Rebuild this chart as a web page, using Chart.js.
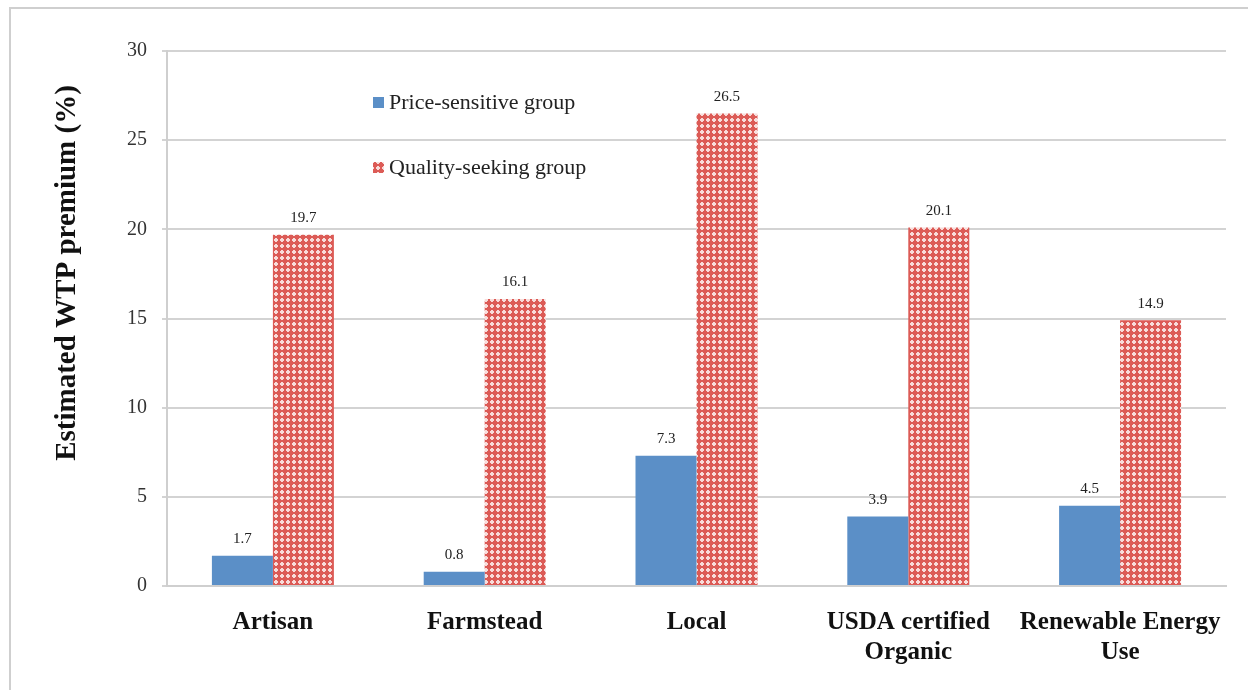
<!DOCTYPE html>
<html>
<head>
<meta charset="utf-8">
<script src="https://cdn.jsdelivr.net/npm/chart.js@4"></script>
<style>
  html, body { margin: 0; padding: 0; background: #fff; }
  #wrap { width: 1248px; height: 690px; position: relative; }
</style>
</head>
<body>
<div id="wrap"><canvas id="myChart"></canvas></div>
<script>
const categories = ['Artisan', 'Farmstead', 'Local', ['USDA certified', 'Organic'], ['Renewable Energy', 'Use']];
const priceSensitive = [1.7, 0.8, 7.3, 3.9, 4.5];
const qualitySeeking = [19.7, 16.1, 26.5, 20.1, 14.9];
const yTicks = [0, 5, 10, 15, 20, 25, 30];
const seriesNames = ['Price-sensitive group', 'Quality-seeking group'];

const serif = "'Liberation Serif', 'Times New Roman', serif";

// red diamond-check tile for the second series
function makeHatch() {
  const rows = ['..XX..', '.XXXX.', 'XXXXXX', 'XXXXXX', '.XXXX.', '..XX..'];
  const c = document.createElement('canvas');
  c.width = 6; c.height = 6;
  const g = c.getContext('2d');
  g.fillStyle = '#f8dcda';
  g.fillRect(0, 0, 6, 6);
  g.fillStyle = '#dc5b56';
  rows.forEach((r, y) => {
    for (let x = 0; x < 6; x++) if (r[x] === 'X') g.fillRect(x, y, 1, 1);
  });
  return g.createPattern(c, 'repeat');
}

const ctx = document.getElementById('myChart');
const hatch = makeHatch();
const blue = '#5b8fc7';

const extras = {
  id: 'extras',
  beforeDraw(chart) {
    const c = chart.ctx;
    c.save();
    c.strokeStyle = '#cfcfcf';
    c.lineWidth = 2;
    c.beginPath();
    c.moveTo(10, 690);
    c.lineTo(10, 8);
    c.lineTo(1248, 8);
    c.stroke();
    c.restore();
  },
  afterDatasetsDraw(chart) {
    const c = chart.ctx;
    c.save();
    // value labels above bars
    c.font = '15px ' + serif;
    c.fillStyle = '#222';
    c.textAlign = 'center';
    c.textBaseline = 'bottom';
    chart.data.datasets.forEach((ds, di) => {
      chart.getDatasetMeta(di).data.forEach((bar, i) => {
        c.fillText(ds.data[i].toFixed(1), bar.x, bar.y - 9);
      });
    });

    // legend inside the plot
    c.font = '22px ' + serif;
    c.textAlign = 'left';
    c.textBaseline = 'middle';
    const fills = [blue, hatch];
    const rows = [103, 168];
    seriesNames.forEach((name, i) => {
      c.fillStyle = fills[i];
      c.fillRect(373, rows[i] - 6, 11, 11);
      c.fillStyle = '#222';
      c.fillText(name, 389, rows[i]);
    });

    // y axis title
    c.translate(68, 273);
    c.rotate(-Math.PI / 2);
    c.font = 'bold 29px ' + serif;
    c.textAlign = 'center';
    c.fillStyle = '#111';
    c.fillText('Estimated WTP premium (%)', 0, 0);
    c.restore();
  }
};

new Chart(ctx, {
  type: 'bar',
  data: {
    labels: categories,
    datasets: [{
      label: seriesNames[0],
      data: priceSensitive,
      backgroundColor: blue,
      categoryPercentage: 0.576,
      barPercentage: 1
    }, {
      label: seriesNames[1],
      data: qualitySeeking,
      backgroundColor: hatch,
      categoryPercentage: 0.576,
      barPercentage: 1
    }]
  },
  options: {
    responsive: true,
    maintainAspectRatio: false,
    animation: false,
    layout: { padding: { left: 0, top: 51, right: 22, bottom: 0 } },
    plugins: {
      legend: { display: false },
      tooltip: { enabled: false }
    },
    scales: {
      x: {
        grid: { display: false },
        border: { color: '#cfcfcf', width: 2 },
        ticks: {
          color: '#111',
          padding: 14,
          maxRotation: 0,
          autoSkip: false,
          font: { family: serif, size: 25, weight: 'bold', lineHeight: 1.2 }
        },
        afterFit(scale) { scale.height = 104; }
      },
      y: {
        min: 0,
        max: 30,
        afterBuildTicks(scale) { scale.ticks = yTicks.map(v => ({ value: v })); },
        grid: { color: '#d3d3d3', lineWidth: 2, tickLength: 5 },
        border: { color: '#cfcfcf', width: 2 },
        ticks: {
          color: '#333',
          padding: 15,
          font: { family: serif, size: 20 }
        },
        afterFit(scale) { scale.width = 167; }
      }
    }
  },
  plugins: [extras]
});
</script>
</body>
</html>
